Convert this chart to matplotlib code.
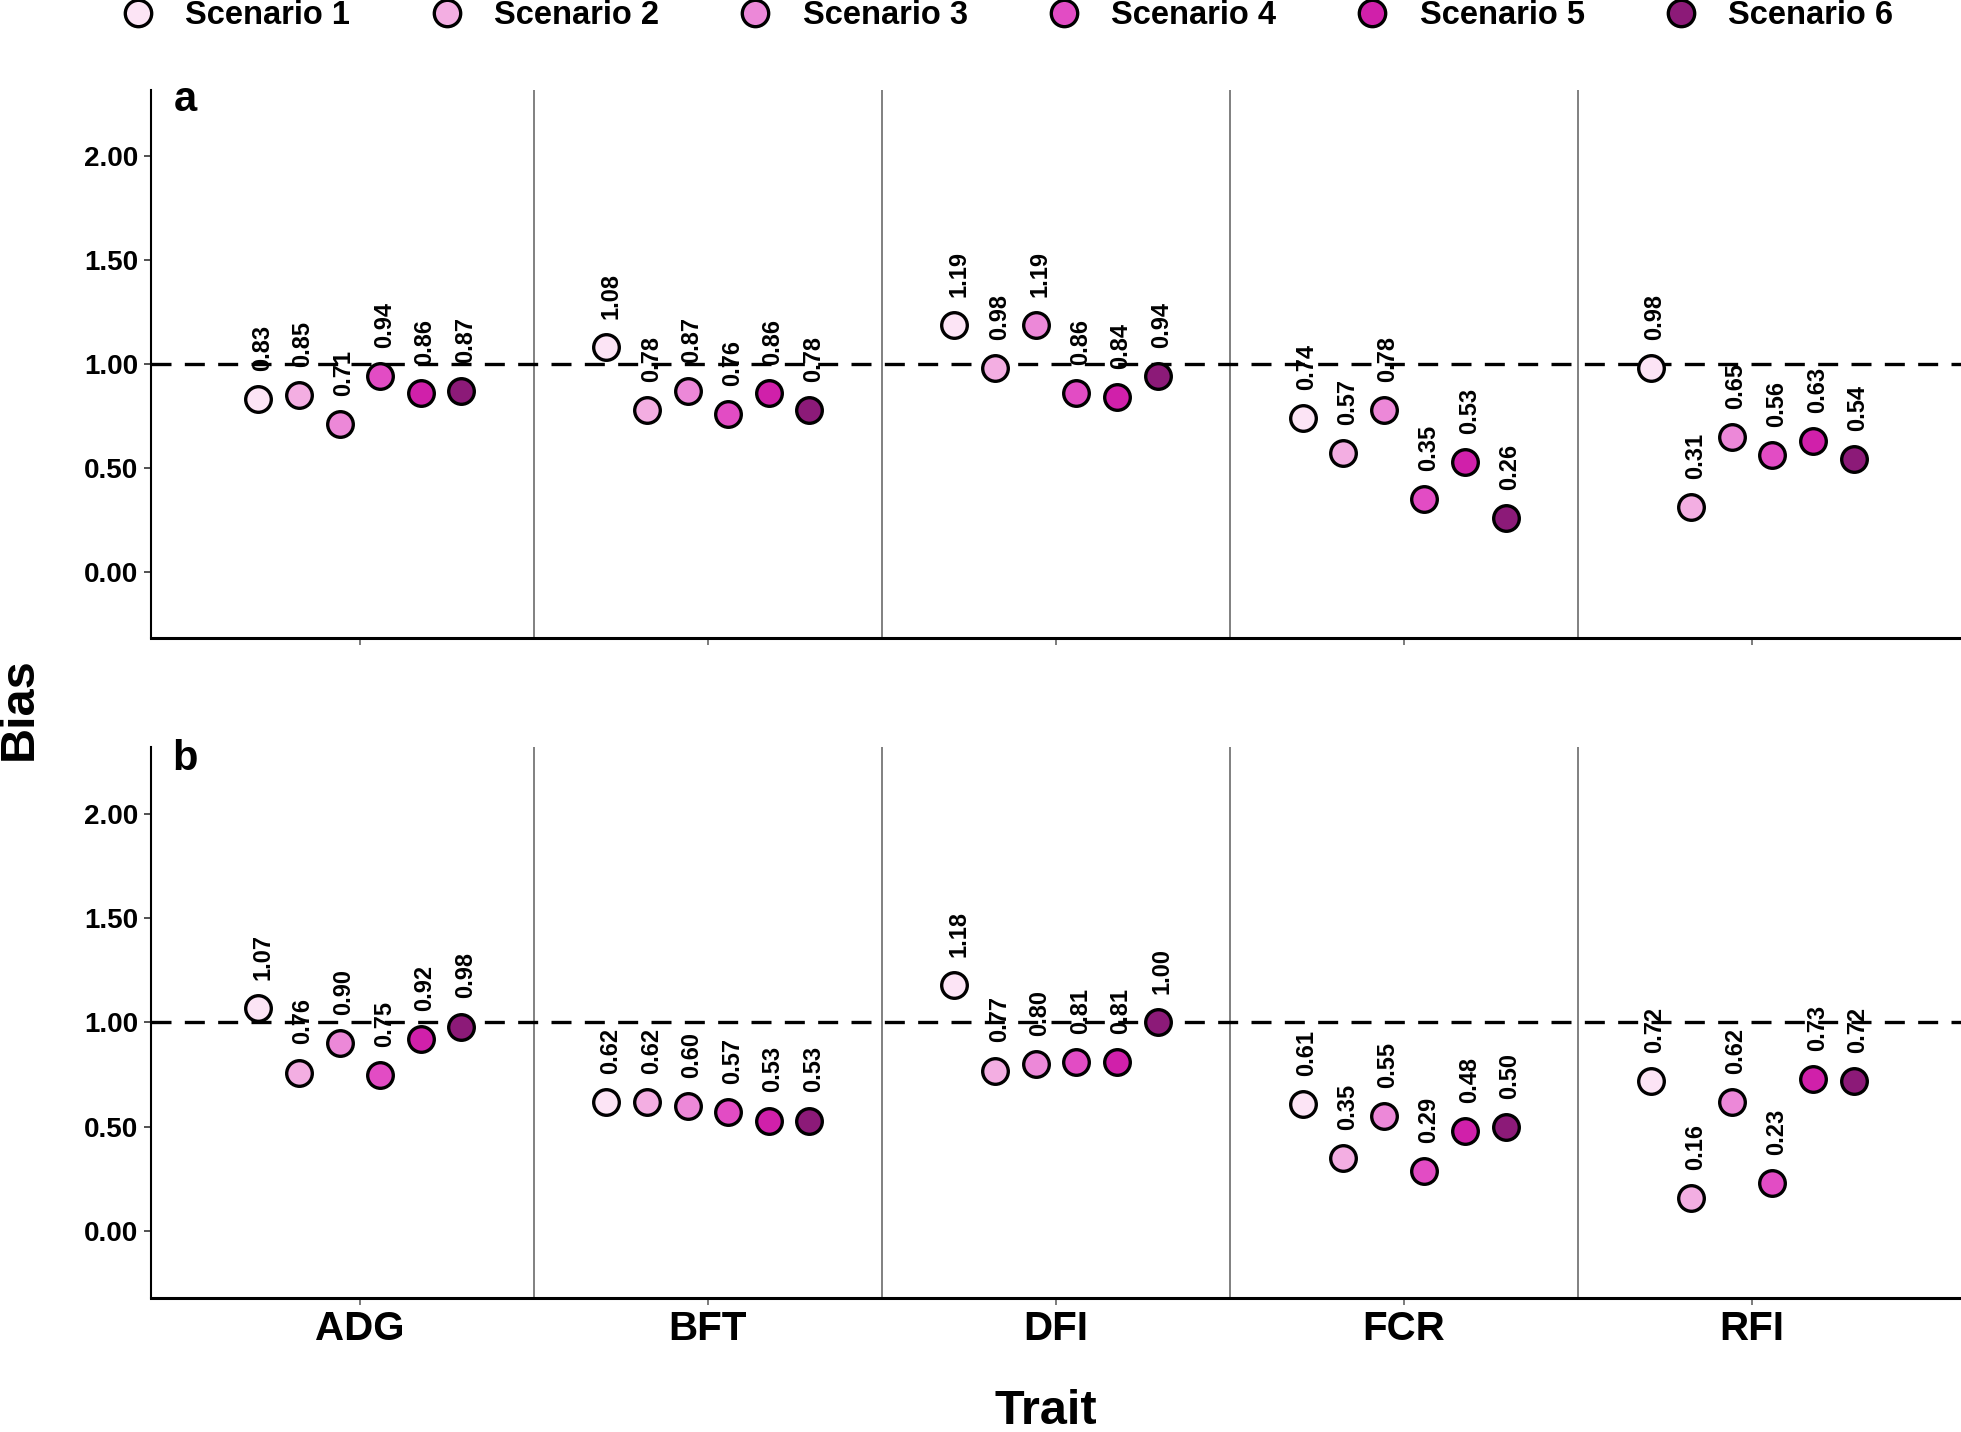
import matplotlib
matplotlib.use("Agg")
import matplotlib.pyplot as plt
from matplotlib.lines import Line2D
import numpy as np

plt.rcParams['font.family'] = ['Liberation Sans', 'DejaVu Sans']
plt.rcParams['font.weight'] = 'bold'

traits = ["ADG", "BFT", "DFI", "FCR", "RFI"]
scenarios = ["Scenario 1", "Scenario 2", "Scenario 3", "Scenario 4", "Scenario 5", "Scenario 6"]
colors = ["#FCE4F5", "#F3AEE2", "#EC88D8", "#E24CC4", "#D020AA", "#8C1A78"]

# bias values per trait (rows) x scenario (cols)
bias_a = [
    [0.83, 0.85, 0.71, 0.94, 0.86, 0.87],   # ADG
    [1.08, 0.78, 0.87, 0.76, 0.86, 0.78],   # BFT
    [1.19, 0.98, 1.19, 0.86, 0.84, 0.94],   # DFI
    [0.74, 0.57, 0.78, 0.35, 0.53, 0.26],   # FCR
    [0.98, 0.31, 0.65, 0.56, 0.63, 0.54],   # RFI
]
bias_b = [
    [1.07, 0.76, 0.90, 0.75, 0.92, 0.98],   # ADG
    [0.62, 0.62, 0.60, 0.57, 0.53, 0.53],   # BFT
    [1.18, 0.77, 0.80, 0.81, 0.81, 1.00],   # DFI
    [0.61, 0.35, 0.55, 0.29, 0.48, 0.50],   # FCR
    [0.72, 0.16, 0.62, 0.23, 0.73, 0.72],   # RFI
]
panels = ["a", "b"]
yticks = [0.0, 0.5, 1.0, 1.5, 2.0]

W, H = 1961, 1432
fig = plt.figure(figsize=(W / 100, H / 100), dpi=100)

left = 151 / W
right = 1.0
boxes = [(90, 638), (747, 1298)]
dodge = 0.7 / 6

axes = []
for pi, (data, letter) in enumerate(zip([bias_a, bias_b], panels)):
    top_px, bot_px = boxes[pi]
    ax = fig.add_axes([left, 1 - bot_px / H, right - left, (bot_px - top_px) / H])
    axes.append(ax)
    ax.set_xlim(-0.6, len(traits) - 0.4)
    ax.set_ylim(-0.32, 2.32)
    for b in range(1, len(traits)):
        ax.axvline(b - 0.5, color="#808080", lw=1.4, zorder=1)
    ax.axhline(1.0, color="black", lw=2.4, ls=(0, (6, 4)), zorder=2)
    for ti, trait in enumerate(traits):
        for si in range(len(scenarios)):
            x = ti + (si - 2.5) * dodge
            v = data[ti][si]
            ax.scatter([x], [v], s=340, color=colors[si], edgecolor="black",
                       linewidth=2.4, zorder=4)
            ax.text(x + 0.012, v + 0.135, f"{v:.2f}", rotation=90, ha="center",
                    va="bottom", fontsize=17, fontweight="bold", zorder=5)
    ax.set_yticks(yticks)
    ax.set_yticklabels([f"{t:.2f}" for t in yticks], fontsize=20, fontweight="bold")
    ax.set_xticks(range(len(traits)))
    if pi == 1:
        ax.set_xticklabels(traits, fontsize=29, fontweight="bold")
    else:
        ax.set_xticklabels([])
    ax.spines["top"].set_visible(False)
    ax.spines["right"].set_visible(False)
    ax.spines["left"].set_linewidth(1.5)
    ax.spines["bottom"].set_linewidth(2.2)
    ax.tick_params(axis="y", length=5, width=1.2, colors="#333333", labelcolor="black", pad=4)
    ax.tick_params(axis="x", length=5, width=1.2, colors="#666666", labelcolor="black", pad=4)
    ax.text(185 / W, 1 - 100 / H if pi == 0 else 1 - 759 / H, letter,
            transform=fig.transFigure, fontsize=30, fontweight="bold",
            ha="center", va="center")

fig.text(19 / W, 1 - 709 / H, "Bias", rotation=90, fontsize=35, fontweight="bold",
         ha="center", va="center")
fig.text(1046 / W, 1 - 1424 / H, "Trait", fontsize=35, fontweight="bold",
         ha="center", va="baseline")

handles = [Line2D([0], [0], marker="o", ls="none", markersize=19,
                  markerfacecolor=c, markeredgecolor="black", markeredgewidth=2.4)
           for c in colors]
fig.legend(handles, scenarios, loc="center", bbox_to_anchor=(0.513, 1 - 16 / H),
           ncol=6, frameon=False, prop={"size": 23.5, "weight": "bold"},
           handletextpad=0.85, columnspacing=2.35, handlelength=1.2)

fig.savefig("out.png", dpi=100)
